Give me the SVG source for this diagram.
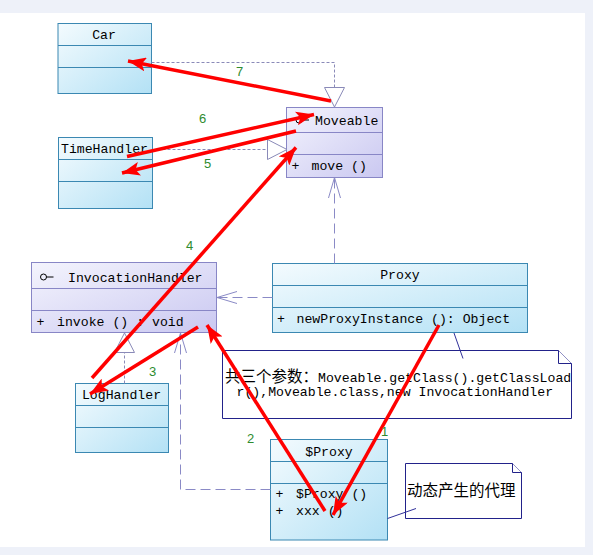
<svg xmlns="http://www.w3.org/2000/svg" width="593" height="555" viewBox="0 0 593 555">
<defs>
<linearGradient id="gc" x1="0" y1="0" x2="1" y2="1">
<stop offset="0" stop-color="#f4fbfe"/>
<stop offset="1" stop-color="#b3e1f5"/>
</linearGradient>
<linearGradient id="gl" x1="0" y1="0" x2="1" y2="1">
<stop offset="0" stop-color="#f4f4fd"/>
<stop offset="1" stop-color="#cac8f1"/>
</linearGradient>
<marker id="red" markerUnits="userSpaceOnUse" markerWidth="20" markerHeight="14" refX="18" refY="7" orient="auto">
<path d="M0,0 L18,7 L0,14 L4,7 Z" fill="#ff0000"/>
</marker>
<clipPath id="noteclip"><rect x="223" y="350" width="348" height="68"/></clipPath>
<style>
text{font-family:"Liberation Mono","Noto Sans CJK SC",monospace;font-size:13.2px;fill:#000}
.cjk{font-family:"Noto Sans CJK SC",sans-serif;font-size:15.5px}
.cls{fill:url(#gc);stroke:#3b88b2;stroke-width:1}
.itf{fill:url(#gl);stroke:#8886c6;stroke-width:1}
.div{stroke-width:1}
.ct{stroke:#3b88b2}
.it{stroke:#8886c6}
.fine{fill:none;stroke:#8a8ab8;stroke-width:1;stroke-dasharray:3 2}
.dep{fill:none;stroke:#8a8ac6;stroke-width:1;stroke-dasharray:10 5}
.head{fill:none;stroke:#8a8ac6;stroke-width:1}
.tri{fill:#ffffff;stroke:#8a8ab8;stroke-width:1}
.red{stroke:#ff0000;stroke-width:3.5;fill:none;marker-end:url(#red)}
.lbl{font-family:"Liberation Sans",sans-serif;font-size:13px;fill:#2e8b2e}
.note{fill:#ffffff;stroke:#22228a;stroke-width:1}
.nl{stroke:#30309a;stroke-width:1;fill:none}
</style>
</defs>
<rect x="0" y="0" width="593" height="555" fill="#eef1f9"/>
<rect x="0" y="13" width="585" height="534" fill="#ffffff"/>

<g id="Car">
<rect class="cls" x="58" y="23.5" width="93.5" height="70"/>
<line class="ct" x1="58" y1="45.5" x2="151.5" y2="45.5"/>
<line class="ct" x1="58" y1="67.5" x2="151.5" y2="67.5"/>
<text x="104" y="38.5" text-anchor="middle">Car</text>
</g>

<g id="TimeHandler">
<rect class="cls" x="58.5" y="137.5" width="94" height="71"/>
<line class="ct" x1="58.5" y1="159.5" x2="152.5" y2="159.5"/>
<line class="ct" x1="58.5" y1="181.5" x2="152.5" y2="181.5"/>
<text x="104.5" y="152.5" text-anchor="middle">TimeHandler</text>
</g>

<g id="Moveable">
<rect class="itf" x="286.5" y="107.5" width="96" height="70"/>
<line class="it" x1="286.5" y1="132.5" x2="382.5" y2="132.5"/>
<line class="it" x1="286.5" y1="154.5" x2="382.5" y2="154.5"/>
<circle cx="299" cy="120" r="3" fill="none" stroke="#000" stroke-width="1"/>
<line x1="302" y1="120" x2="309" y2="120" stroke="#000" stroke-width="1"/>
<text x="315" y="124.5">Moveable</text>
<text x="291.5" y="169.5">+</text>
<text x="311.5" y="169.5">move ()</text>
</g>

<g id="InvocationHandler">
<rect class="itf" x="31.5" y="262.5" width="185" height="70"/>
<line class="it" x1="31.5" y1="288.5" x2="216.5" y2="288.5"/>
<line class="it" x1="31.5" y1="310.5" x2="216.5" y2="310.5"/>
<circle cx="43.5" cy="277" r="3" fill="none" stroke="#000" stroke-width="1"/>
<line x1="46.5" y1="277" x2="53.5" y2="277" stroke="#000" stroke-width="1"/>
<text x="68" y="281.5">InvocationHandler</text>
<text x="36.5" y="325.5">+</text>
<text x="57" y="325.5">invoke () : void</text>
</g>

<g id="Proxy">
<rect class="cls" x="272.5" y="263.5" width="255" height="69"/>
<line class="ct" x1="272.5" y1="285.5" x2="527.5" y2="285.5"/>
<line class="ct" x1="272.5" y1="307.5" x2="527.5" y2="307.5"/>
<text x="400" y="279" text-anchor="middle">Proxy</text>
<text x="277" y="323">+</text>
<text x="296.5" y="323">newProxyInstance (): Object</text>
</g>

<g id="LogHandler">
<rect class="cls" x="75.5" y="383.5" width="93" height="69"/>
<line class="ct" x1="75.5" y1="405.5" x2="168.5" y2="405.5"/>
<line class="ct" x1="75.5" y1="427.5" x2="168.5" y2="427.5"/>
<text x="121.5" y="399" text-anchor="middle">LogHandler</text>
</g>

<g id="DollarProxy">
<rect class="cls" x="270.5" y="439.5" width="117" height="100.5"/>
<line class="ct" x1="270.5" y1="461.5" x2="387.5" y2="461.5"/>
<line class="ct" x1="270.5" y1="483.5" x2="387.5" y2="483.5"/>
<text x="329" y="455.5" text-anchor="middle">$Proxy</text>
<text x="275.5" y="497.5">+</text>
<text x="296" y="497.5">$Proxy ()</text>
<text x="275.5" y="514.5">+</text>
<text x="296" y="514.5">xxx ()</text>
</g>

<g id="Note1">
<path class="note" d="M222.5,350.5 H558.5 L571.5,363.5 V418.5 H222.5 Z"/>
<path class="note" d="M558.5,350.5 V363.5 H571.5"/>
<g clip-path="url(#noteclip)">
<text x="225" y="381.5"><tspan class="cjk">共三个参数：</tspan>Moveable.getClass().getClassLoader</text>
</g>
<text x="236.5" y="396">r(),Moveable.class,new InvocationHandler</text>
</g>

<g id="Note2">
<path class="note" d="M405.5,463.5 H512.5 L521.5,472.5 V518.5 H405.5 Z"/>
<path class="note" d="M512.5,463.5 V472.5 H521.5"/>
<text class="cjk" x="407" y="495.5">动态产生的代理</text>
</g>

<g id="connectors">
<path class="fine" d="M151.5,62.5 H334.5 V87.5"/>
<path class="tri" d="M324.5,87.5 H344.5 L334.5,107 Z"/>
<path class="fine" d="M152.5,149.5 H267.5"/>
<path class="tri" d="M267.5,139.5 V159.5 L287,149.5 Z"/>
<path class="dep" d="M334.5,263.5 V178"/>
<path class="head" d="M328.5,198 L334.5,177.5 L340.5,198"/>
<path class="dep" d="M272.5,297.5 H217.5"/>
<path class="head" d="M237,291.5 L217,297.5 L237,303.5"/>
<path class="fine" d="M124.5,383.5 V352.5"/>
<path class="tri" d="M114.5,352.5 H134.5 L124.5,333 Z"/>
<path class="dep" d="M270.5,489.5 H180.5 V334"/>
<path class="head" d="M174.5,353 L180.5,333 L186.5,353"/>
<path class="nl" d="M454,333 L463,358.5"/>
<path class="nl" d="M387.5,518.5 L416,508.5"/>

<line class="red" x1="331" y1="101" x2="128" y2="61"/>
<line class="red" x1="127" y1="156.5" x2="314" y2="114.5"/>
<line class="red" x1="296" y1="131" x2="122" y2="173"/>
<line class="red" x1="92" y1="378" x2="296" y2="147.5"/>
<line class="red" x1="198" y1="327" x2="90" y2="394"/>
<line class="red" x1="325" y1="511" x2="207" y2="325"/>
<line class="red" x1="439" y1="325" x2="333" y2="515"/>

<text class="lbl" x="239.5" y="76" text-anchor="middle">7</text>
<text class="lbl" x="202.5" y="123" text-anchor="middle">6</text>
<text class="lbl" x="207.5" y="168" text-anchor="middle">5</text>
<text class="lbl" x="189.5" y="250" text-anchor="middle">4</text>
<text class="lbl" x="152.5" y="375.5" text-anchor="middle">3</text>
<text class="lbl" x="250.5" y="443" text-anchor="middle">2</text>
<text class="lbl" x="384.5" y="436" text-anchor="middle">1</text>
</g>
</svg>
